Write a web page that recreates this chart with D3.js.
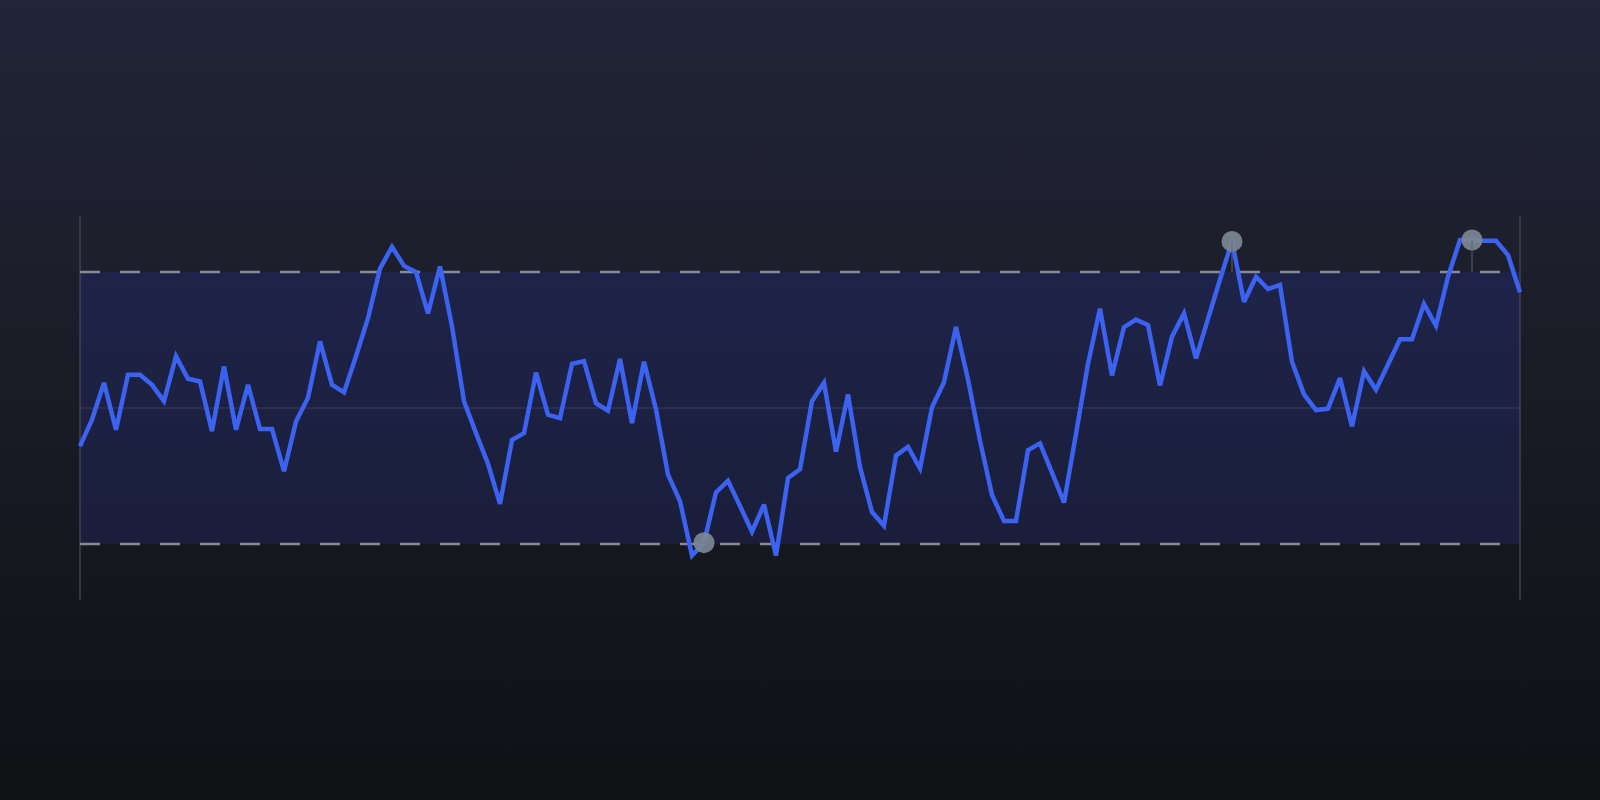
<!DOCTYPE html>
<html>
<head>
<meta charset="utf-8">
<script src="https://cdn.jsdelivr.net/npm/d3@7"></script>
<style>
  html, body { margin: 0; padding: 0; background: #15161c; }
  svg { display: block; }
</style>
</head>
<body>
<svg width="1600" height="800"></svg>
<script>
// z-score style series, one value per step
const values = [
  -0.56, -0.17, 0.37, -0.32, 0.49, 0.49, 0.34, 0.10, 0.76, 0.43,
  0.39, -0.34, 0.61, -0.32, 0.34, -0.31, -0.31, -0.93, -0.20, 0.15,
  0.98, 0.34, 0.23, 0.76, 1.32, 2.05, 2.37, 2.09, 2.00, 1.39,
  2.08, 1.20, 0.10, -0.37, -0.82, -1.41, -0.47, -0.37, 0.52, -0.10,
  -0.15, 0.65, 0.69, 0.07, -0.04, 0.72, -0.22, 0.68, -0.02, -0.98,
  -1.37, -2.17, -1.98, -1.24, -1.07, -1.44, -1.82, -1.42, -2.17, -1.03,
  -0.90, 0.10, 0.37, -0.64, 0.20, -0.87, -1.53, -1.73, -0.70, -0.57,
  -0.89, 0.01, 0.38, 1.19, 0.42, -0.48, -1.28, -1.66, -1.66, -0.62,
  -0.52, -0.95, -1.39, -0.38, 0.65, 1.46, 0.48, 1.19, 1.30, 1.22,
  0.33, 1.05, 1.39, 0.73, 1.31, 1.89, 2.45, 1.56, 1.93, 1.75,
  1.81, 0.68, 0.20, -0.03, -0.01, 0.44, -0.27, 0.54, 0.27, 0.64,
  1.01, 1.01, 1.53, 1.21, 1.93, 2.47, 2.47, 2.46, 2.46, 2.25,
  1.70
];
const bandLimits = [-2, 2];
const markerIdx = [52, 96, 116];

const width = 1600;
const height = 800;

const svg = d3.select('svg');
const defs = svg.append('defs');

const bg = defs.append('linearGradient')
    .attr('id', 'bg').attr('x1', 0).attr('y1', 0).attr('x2', 0).attr('y2', 1);
bg.append('stop').attr('offset', '0%').attr('stop-color', '#222538');
bg.append('stop').attr('offset', '45%').attr('stop-color', '#1a1c27');
bg.append('stop').attr('offset', '100%').attr('stop-color', '#101115');

const band = defs.append('linearGradient')
    .attr('id', 'band').attr('x1', 0).attr('y1', 0).attr('x2', 0).attr('y2', 1);
band.append('stop').attr('offset', '0%').attr('stop-color', '#1e2449');
band.append('stop').attr('offset', '100%').attr('stop-color', '#1a1e3a');

svg.append('rect')
    .attr('width', width).attr('height', height)
    .attr('fill', 'url(#bg)');

const x = d3.scaleLinear()
    .domain([0, values.length - 1])
    .range([80, 1520]);

const y = d3.scaleLinear()
    .domain([-3, 3])
    .range([612, 204]);

const frameTop = 216;
const frameBottom = 600;

// band between the limits
svg.append('rect')
    .attr('x', x(0))
    .attr('y', y(bandLimits[1]))
    .attr('width', x(values.length - 1) - x(0))
    .attr('height', y(bandLimits[0]) - y(bandLimits[1]))
    .attr('fill', 'url(#band)');

// side frame lines
svg.selectAll('.frame').data([0, values.length - 1])
    .enter().append('line')
    .attr('class', 'frame')
    .attr('x1', d => x(d)).attr('x2', d => x(d))
    .attr('y1', frameTop).attr('y2', frameBottom)
    .attr('stroke', '#50556a')
    .attr('stroke-width', 1);

// centre line
svg.append('line')
    .attr('x1', x(0)).attr('x2', x(values.length - 1))
    .attr('y1', y(0)).attr('y2', y(0))
    .attr('stroke', '#383e5c')
    .attr('stroke-width', 1);

// limit lines
svg.selectAll('.limit').data(bandLimits)
    .enter().append('line')
    .attr('class', 'limit')
    .attr('x1', x(0)).attr('x2', x(values.length - 1))
    .attr('y1', d => y(d)).attr('y2', d => y(d))
    .attr('stroke', '#868a95')
    .attr('stroke-width', 2.5)
    .attr('stroke-dasharray', '20 20');

const line = d3.line()
    .x((d, i) => x(i))
    .y(d => y(d));

svg.append('path')
    .datum(values)
    .attr('d', line)
    .attr('fill', 'none')
    .attr('stroke', '#3b62f0')
    .attr('stroke-width', 4.5)
    .attr('stroke-linejoin', 'miter')
    .attr('stroke-miterlimit', 3);

// markers with a drop line to the nearest limit
const marks = svg.selectAll('.mark').data(markerIdx)
    .enter().append('g')
    .attr('class', 'mark');

marks.append('circle')
    .attr('cx', d => x(d))
    .attr('cy', d => y(values[d]))
    .attr('r', 10.5)
    .attr('fill', '#7c8692')
    .attr('fill-opacity', 0.92);

marks.append('line')
    .attr('x1', d => x(d)).attr('x2', d => x(d))
    .attr('y1', d => y(values[d]))
    .attr('y2', d => y(values[d] > 0 ? bandLimits[1] : bandLimits[0]))
    .attr('stroke', '#5d6572')
    .attr('stroke-width', 1);
</script>
</body>
</html>
